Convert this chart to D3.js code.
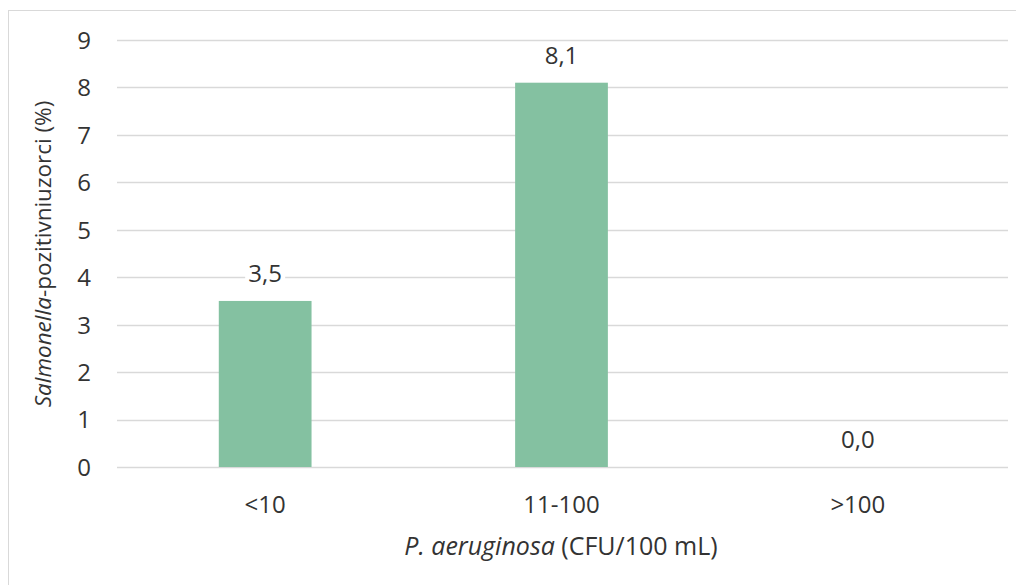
<!DOCTYPE html>
<html>
<head>
<meta charset="utf-8">
<script src="https://cdn.jsdelivr.net/npm/d3@7"></script>
<style>
  html, body { margin: 0; padding: 0; background: #fff; }
  svg { display: block; }
  text { font-family: "Open Sans", sans-serif; fill: #333333; }
</style>
</head>
<body>
<svg id="chart" width="1016" height="585"></svg>
<script>
const categories = ["<10", "11-100", ">100"];
const values = [3.5, 8.1, 0.0];
const valueLabels = ["3,5", "8,1", "0,0"];
const yTicks = [0, 1, 2, 3, 4, 5, 6, 7, 8, 9];

const svg = d3.select("#chart");
const W = 1016, H = 585;
const FS = 24;

// outer chart border (only top/left visible in the picture)
svg.append("rect")
  .attr("x", 8.5).attr("y", 10.5)
  .attr("width", W + 10).attr("height", H + 10)
  .attr("fill", "none").attr("stroke", "#d9d9d9").attr("stroke-width", 1);

const x = d3.scaleBand()
  .domain(categories)
  .range([117, 1006])
  .paddingInner(0.687)
  .paddingOuter(0.687 / 2);

const y = d3.scaleLinear().domain([0, 9]).range([467, 40]);

// gridlines
svg.append("g")
  .selectAll("line")
  .data(yTicks)
  .join("line")
  .attr("x1", 117).attr("x2", 1008)
  .attr("y1", d => Math.round(y(d)) + 0.5)
  .attr("y2", d => Math.round(y(d)) + 0.5)
  .attr("stroke", "#d9d9d9").attr("stroke-width", 1.3);

// y axis labels
const yAxis = d3.axisLeft(y).tickValues(yTicks).tickSize(0).tickPadding(0)
  .tickFormat(d3.format("d"));
const gy = svg.append("g").attr("transform", "translate(91,0)").call(yAxis);
gy.select(".domain").remove();
gy.selectAll("text").attr("font-size", FS).attr("font-family", "Open Sans")
  .attr("fill", "#333333").attr("dy", "0.35em");

// bars
svg.append("g")
  .selectAll("rect")
  .data(values)
  .join("rect")
  .attr("x", (d, i) => x(categories[i]))
  .attr("width", x.bandwidth())
  .attr("y", d => y(d))
  .attr("height", d => y(0) - y(d))
  .attr("fill", "#84c1a1");

// value labels
const vl = svg.append("g")
  .selectAll("g")
  .data(values)
  .join("g")
  .attr("transform", (d, i) => `translate(${x(categories[i]) + x.bandwidth() / 2},${y(d) - 19})`);
vl.append("rect")
  .attr("x", -20).attr("y", -19).attr("width", 40).attr("height", 25)
  .attr("fill", "#fff");
vl.append("text")
  .attr("text-anchor", "middle")
  .attr("font-size", FS)
  .text((d, i) => valueLabels[i]);

// x axis labels
const xAxis = d3.axisBottom(x).tickSize(0).tickPadding(0);
const gx = svg.append("g").attr("transform", "translate(0,505)").call(xAxis);
gx.select(".domain").remove();
gx.selectAll("text").attr("font-size", FS).attr("font-family", "Open Sans")
  .attr("fill", "#333333").attr("dy", "0.35em");

// x title
const xt = svg.append("text")
  .attr("x", 561).attr("y", 555)
  .attr("text-anchor", "middle")
  .attr("font-size", 25);
xt.append("tspan").attr("font-style", "italic").text("P. aeruginosa");
xt.append("tspan").text(" (CFU/100 mL)");

// y title
const yt = svg.append("text")
  .attr("transform", "translate(51,254) rotate(-90)")
  .attr("text-anchor", "middle")
  .attr("font-size", 22.5);
yt.append("tspan").attr("font-style", "italic").text("Salmonella");
yt.append("tspan").text("-pozitivniuzorci (%)");
</script>
</body>
</html>
